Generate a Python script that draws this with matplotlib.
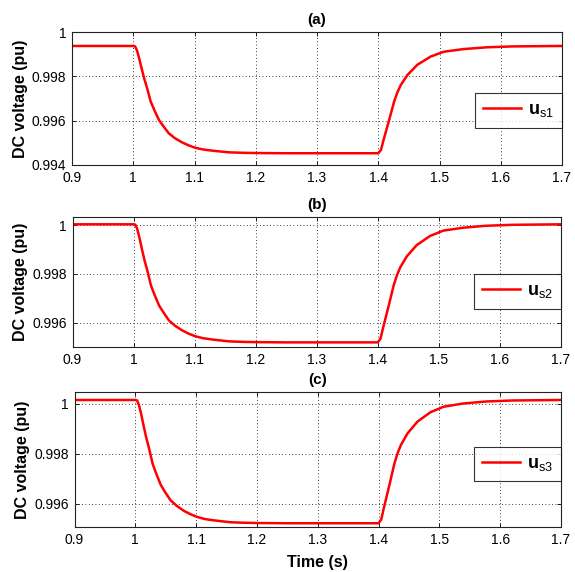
import matplotlib
matplotlib.use("Agg")
import matplotlib.pyplot as plt

plt.rcParams['font.family'] = ['Liberation Sans', 'DejaVu Sans']
plt.rcParams['mathtext.fontset'] = 'custom'
plt.rcParams['mathtext.rm'] = 'Liberation Sans'
plt.rcParams['mathtext.bf'] = 'Liberation Sans:bold'

# time samples (s)
t = [0.9, 1.0, 1.003, 1.006, 1.0097, 1.0137, 1.0177, 1.023, 1.0285, 1.035, 1.042, 1.05,
     1.058, 1.068, 1.0797, 1.09, 1.101, 1.114, 1.128, 1.142, 1.157, 1.18, 1.2, 1.25,
     1.3, 1.4, 1.4044, 1.408, 1.4124, 1.4178, 1.4259, 1.431, 1.4368, 1.4476, 1.4638,
     1.4854, 1.507, 1.5394, 1.5773, 1.62, 1.66, 1.7]

us1 = [0.99937, 0.99937, 0.99935, 0.99918, 0.99881, 0.99835, 0.99792, 0.99743, 0.99686,
       0.99644, 0.99603, 0.99572, 0.99543, 0.99521, 0.99502, 0.99489, 0.99478, 0.99470,
       0.99465, 0.99461, 0.99457, 0.99455, 0.99454, 0.99453, 0.99453, 0.99453, 0.99468,
       0.99506, 0.99550, 0.99603, 0.99686, 0.99726, 0.99761, 0.99806, 0.99852, 0.99889,
       0.99911, 0.99923, 0.99931, 0.99935, 0.99936, 0.99937]

us2 = [1.00003, 1.00003, 1.00001, 0.99984, 0.99947, 0.99901, 0.99858, 0.99809, 0.99752,
       0.99710, 0.99669, 0.99638, 0.99609, 0.99587, 0.99568, 0.99555, 0.99544, 0.99536,
       0.99531, 0.99527, 0.99523, 0.99521, 0.99520, 0.99519, 0.99519, 0.99519, 0.99534,
       0.99572, 0.99616, 0.99669, 0.99752, 0.99792, 0.99827, 0.99872, 0.99918, 0.99955,
       0.99977, 0.99989, 0.99997, 1.00001, 1.00002, 1.00003]

us3 = [1.00016, 1.00016, 1.00014, 0.99996, 0.99959, 0.99912, 0.99868, 0.99818, 0.99760,
       0.99717, 0.99675, 0.99643, 0.99614, 0.99592, 0.99572, 0.99559, 0.99548, 0.99539,
       0.99534, 0.99530, 0.99526, 0.99524, 0.99523, 0.99522, 0.99522, 0.99522, 0.99537,
       0.99576, 0.99621, 0.99675, 0.99760, 0.99801, 0.99836, 0.99882, 0.99929, 0.99967,
       0.99989, 1.00002, 1.00010, 1.00014, 1.00015, 1.00016]

series = [us1, us2, us3]
labels = [r'$\mathbf{u}_{\mathrm{s1}}$', r'$\mathbf{u}_{\mathrm{s2}}$', r'$\mathbf{u}_{\mathrm{s3}}$']
titles = ['(a)', '(b)', '(c)']
ylims = [(0.994, 1.0), (0.995, 1.00033), (0.99507, 1.00048)]
yticks = [[0.994, 0.996, 0.998, 1.0], [0.996, 0.998, 1.0], [0.996, 0.998, 1.0]]
yticklabels = [['0.994', '0.996', '0.998', '1'], ['0.996', '0.998', '1'], ['0.996', '0.998', '1']]
xticks = [0.9, 1.0, 1.1, 1.2, 1.3, 1.4, 1.5, 1.6, 1.7]
xticklabels = ['0.9', '1', '1.1', '1.2', '1.3', '1.4', '1.5', '1.6', '1.7']

W, H = 575, 572
fig = plt.figure(figsize=(W / 100, H / 100), dpi=100)

# axes boxes in pixels: left, top, right, bottom
boxes = [(72, 32, 562, 165), (72.5, 217, 561, 347), (74.5, 392, 561, 527)]
leg_y = [0.41, 0.427, 0.467]

for i in range(3):
    l, tp, r, b = boxes[i]
    ax = fig.add_axes([l / W, 1 - b / H, (r - l) / W, (b - tp) / H])
    ax.plot(t, series[i], color='#ff0000', lw=1.8, label=labels[i])
    ax.set_xlim(0.9, 1.7)
    ax.set_ylim(*ylims[i])
    ax.set_xticks(xticks)
    ax.set_xticklabels(xticklabels)
    ax.set_yticks(yticks[i])
    ax.set_yticklabels(yticklabels[i])
    ax.tick_params(direction='in', top=True, right=True, labelsize=10, length=3,
                   width=0.6, pad=4, colors='black')
    ax.grid(True, color='black', linestyle=(0, (1, 3)), linewidth=0.6)
    for s in ax.spines.values():
        s.set_linewidth(0.8)
        s.set_color('#222222')
    ax.set_ylabel('DC voltage (pu)', fontsize=11.5, fontweight='bold', labelpad=3)
    ax.set_title(titles[i], fontsize=11, fontweight='bold', pad=6)
    leg = ax.legend(loc='center right', bbox_to_anchor=(1.0, leg_y[i]), fontsize=13,
                    frameon=True, fancybox=False, edgecolor='black', handlelength=2.1,
                    handletextpad=0.4, borderpad=0.45, borderaxespad=0.0)
    leg.get_frame().set_linewidth(0.8)
    if i == 2:
        ax.set_xlabel('Time (s)', fontsize=11.5, fontweight='bold', labelpad=6)

fig.savefig('out.png', dpi=100)
